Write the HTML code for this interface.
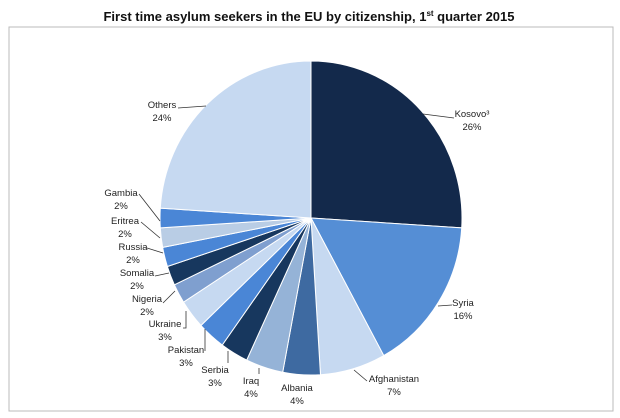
<!DOCTYPE html>
<html><head><meta charset="utf-8"><style>
body{margin:0;background:#fff;width:620px;height:418px;overflow:hidden;font-family:"Liberation Sans",sans-serif}
svg{display:block}
.lbl{font-size:9.5px;fill:#222;text-anchor:middle}
</style></head><body>
<svg id="chart" width="620" height="418">
<text x="309" y="21" font-size="13" font-weight="bold" text-anchor="middle" fill="#111">First time asylum seekers in the EU by citizenship, 1<tspan font-size="8" dy="-5">st</tspan><tspan dy="5"> quarter 2015</tspan></text>
<rect x="9" y="27" width="604" height="384" fill="none" stroke="#bbb" stroke-width="1"/>
<g id="slices"></g><g id="labels"></g>
</svg>
<script>
const categories=["Kosovo³","Syria","Afghanistan","Albania","Iraq","Serbia","Pakistan","Ukraine","Nigeria","Somalia","Russia","Eritrea","Gambia","Others"];
const values=[26,16,7,4,4,3,3,3,2,2,2,2,2,24];
const percentLabels=["26%","16%","7%","4%","4%","3%","3%","3%","2%","2%","2%","2%","2%","24%"];
const colors=["#13294b","#558ed5","#c6d9f1","#3e6aa1","#95b3d7","#17375e","#4a86d6","#c6d9f1","#7f9fcf","#17375e","#4a86d6","#b9cde5","#4a86d6","#c6d9f1"];
const labelPos=[[472,114],[463,303],[394,379],[297,388],[251,381],[215,370],[186,350],[165,324],[147,299],[137,273],[133,247],[125,221],[121,193],[162,105]];
const leaders=[[[423,114],[454,118]],[[438,306],[452,305]],[[354,370],[367,381]],null,[[259,368],[259,374]],[[228,351],[228,363]],[[205,329],[205,351]],[[186,311],[186,328],[183,328]],[[175,291],[163,303]],[[169,273],[155,276]],[[163,253],[147,248]],[[160,238],[141,222]],[[160,221],[139,194]],[[206,106],[178,108]]];
const cx=311,cy=218,rx=151,ry=157;
const NS="http://www.w3.org/2000/svg";
const total=values.reduce((a,b)=>a+b,0);
function pt(a){return [cx+rx*Math.sin(a),cy-ry*Math.cos(a)];}
let acc=0;
const gs=document.getElementById('slices'),gl=document.getElementById('labels');
values.forEach((v,i)=>{
  const a0=acc/total*2*Math.PI; acc+=v; const a1=acc/total*2*Math.PI;
  const p0=pt(a0),p1=pt(a1);
  const p=document.createElementNS(NS,'path');
  p.setAttribute('d',`M${cx},${cy}L${p0[0]},${p0[1]}A${rx},${ry} 0 ${a1-a0>Math.PI?1:0} 1 ${p1[0]},${p1[1]}Z`);
  p.setAttribute('fill',colors[i]);p.setAttribute('stroke','#fff');p.setAttribute('stroke-width','1');
  
  
  gs.appendChild(p);
  if(leaders[i]){
    const l=document.createElementNS(NS,'polyline');
    l.setAttribute('points',leaders[i].map(q=>q.join(',')).join(' '));
    l.setAttribute('fill','none');l.setAttribute('stroke','#333');l.setAttribute('stroke-width','0.8');
    
    
    gl.appendChild(l);
  }
  const t=document.createElementNS(NS,'text');
  t.setAttribute('class','lbl');t.setAttribute('x',labelPos[i][0]);t.setAttribute('y',labelPos[i][1]+3);
  t.textContent=categories[i];
  
  
  gl.appendChild(t);
  const t2=document.createElementNS(NS,'text');
  t2.setAttribute('class','lbl');t2.setAttribute('x',labelPos[i][0]);t2.setAttribute('y',labelPos[i][1]+16);
  t2.textContent=percentLabels[i];
  
  
  gl.appendChild(t2);
});
</script>
</body></html>
